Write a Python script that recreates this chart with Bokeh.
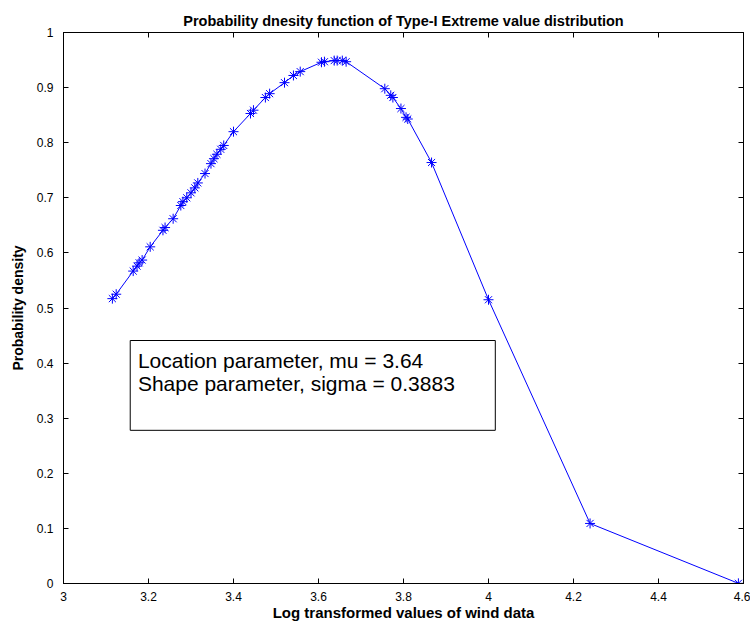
from bokeh.plotting import figure
from bokeh.models import (ColumnDataSource, FixedTicker, LinearAxis, Range1d,
                          BoxAnnotation, Label, Title)
from bokeh.embed import file_html
from bokeh.resources import INLINE

# Data
log_wind = [3.115, 3.124, 3.164, 3.173, 3.178, 3.185, 3.204, 3.234, 3.239, 3.258,
            3.276, 3.281, 3.290, 3.300, 3.309, 3.316, 3.333, 3.347, 3.354, 3.361,
            3.370, 3.377, 3.400, 3.440, 3.447, 3.475, 3.485, 3.520, 3.541, 3.557,
            3.607, 3.614, 3.637, 3.644, 3.656, 3.665, 3.756, 3.770, 3.775, 3.794,
            3.806, 3.810, 3.866, 4.000, 4.239, 4.588]
pdf_vals = [0.517, 0.525, 0.567, 0.576, 0.582, 0.587, 0.611, 0.641, 0.646, 0.662,
            0.686, 0.693, 0.700, 0.709, 0.718, 0.727, 0.744, 0.762, 0.771, 0.779,
            0.788, 0.795, 0.820, 0.853, 0.859, 0.882, 0.889, 0.909, 0.922, 0.929,
            0.946, 0.947, 0.949, 0.949, 0.949, 0.947, 0.898, 0.886, 0.882, 0.862,
            0.846, 0.843, 0.764, 0.515, 0.109, 0.0003]

x_ticks = [3, 3.2, 3.4, 3.6, 3.8, 4, 4.2, 4.4, 4.6]
x_tick_labels = ["3", "3.2", "3.4", "3.6", "3.8", "4", "4.2", "4.4", "4.6"]
y_ticks = [0, 0.1, 0.2, 0.3, 0.4, 0.5, 0.6, 0.7, 0.8, 0.9, 1]
y_tick_labels = ["0", "0.1", "0.2", "0.3", "0.4", "0.5", "0.6", "0.7", "0.8", "0.9", "1"]

title_text = "Probability dnesity function of Type-I Extreme value distribution"
x_label = "Log transformed values of wind data"
y_label = "Probability density"
box_lines = ["Location parameter, mu = 3.64", "Shape parameter, sigma = 0.3883"]
box_baselines = [0.405, 0.363]

FONT = "Liberation Sans"

p = figure(width=750, height=623, output_backend="svg", toolbar_location=None,
           x_range=Range1d(3, 4.6), y_range=Range1d(0, 1),
           min_border_left=63, min_border_right=7, min_border_top=32, min_border_bottom=40,
           x_axis_location=None, y_axis_location=None)
p.title = Title(text=title_text, text_font=FONT, text_font_size="14.5px",
                text_font_style="bold", text_color="black", align="center",
                offset=0, standoff=8)
p.title_location = "above"
p.grid.visible = False
p.outline_line_color = "black"
p.outline_line_width = 1
p.outline_line_alpha = 1.0
p.background_fill_color = "white"
p.border_fill_color = "white"

def make_axis(ticks, labels, show_labels, axis_label=None, standoff=5,
              label_standoff=2, label_size="15px"):
    ax = LinearAxis(ticker=FixedTicker(ticks=ticks))
    if show_labels:
        ax.major_label_overrides = {t: l for t, l in zip(ticks, labels)}
    else:
        ax.major_label_overrides = {t: "" for t in ticks}
    ax.major_tick_in = 5
    ax.major_tick_out = 0
    ax.minor_tick_line_color = None
    ax.axis_line_color = "black"
    ax.major_tick_line_color = "black"
    ax.major_label_text_font = FONT
    ax.major_label_text_font_size = "12px"
    ax.major_label_text_color = "black"
    ax.major_label_standoff = standoff if show_labels else 0
    if axis_label:
        ax.axis_label = axis_label
        ax.axis_label_text_font = FONT
        ax.axis_label_text_font_size = label_size
        ax.axis_label_text_font_style = "bold"
        ax.axis_label_text_color = "black"
        ax.axis_label_standoff = label_standoff
    return ax

p.add_layout(make_axis(x_ticks, x_tick_labels, True, x_label, standoff=8,
                       label_standoff=0, label_size="15px"), "below")
p.add_layout(make_axis(y_ticks, y_tick_labels, True, y_label, standoff=10,
                       label_standoff=8, label_size="14px"), "left")
p.add_layout(make_axis(x_ticks, x_tick_labels, False), "above")
p.add_layout(make_axis(y_ticks, y_tick_labels, False), "right")

src = ColumnDataSource(data=dict(x=log_wind, y=pdf_vals))
p.line("x", "y", source=src, line_color="#0000ff", line_width=1)
p.scatter("x", "y", source=src, marker="asterisk", size=10,
          line_color="#0000ff", line_width=1)

# Annotation text box
p.add_layout(BoxAnnotation(left=3.157, right=4.016, bottom=0.278, top=0.441,
                           fill_color="white", fill_alpha=1.0,
                           line_color="black", line_alpha=1.0, line_width=1))
for t, yb in zip(box_lines, box_baselines):
    p.add_layout(Label(x=3.175, y=yb, text=t, text_font=FONT,
                       text_font_size="21px", text_color="black",
                       text_baseline="alphabetic"))

open("out.html", "w").write(file_html(p, INLINE))
